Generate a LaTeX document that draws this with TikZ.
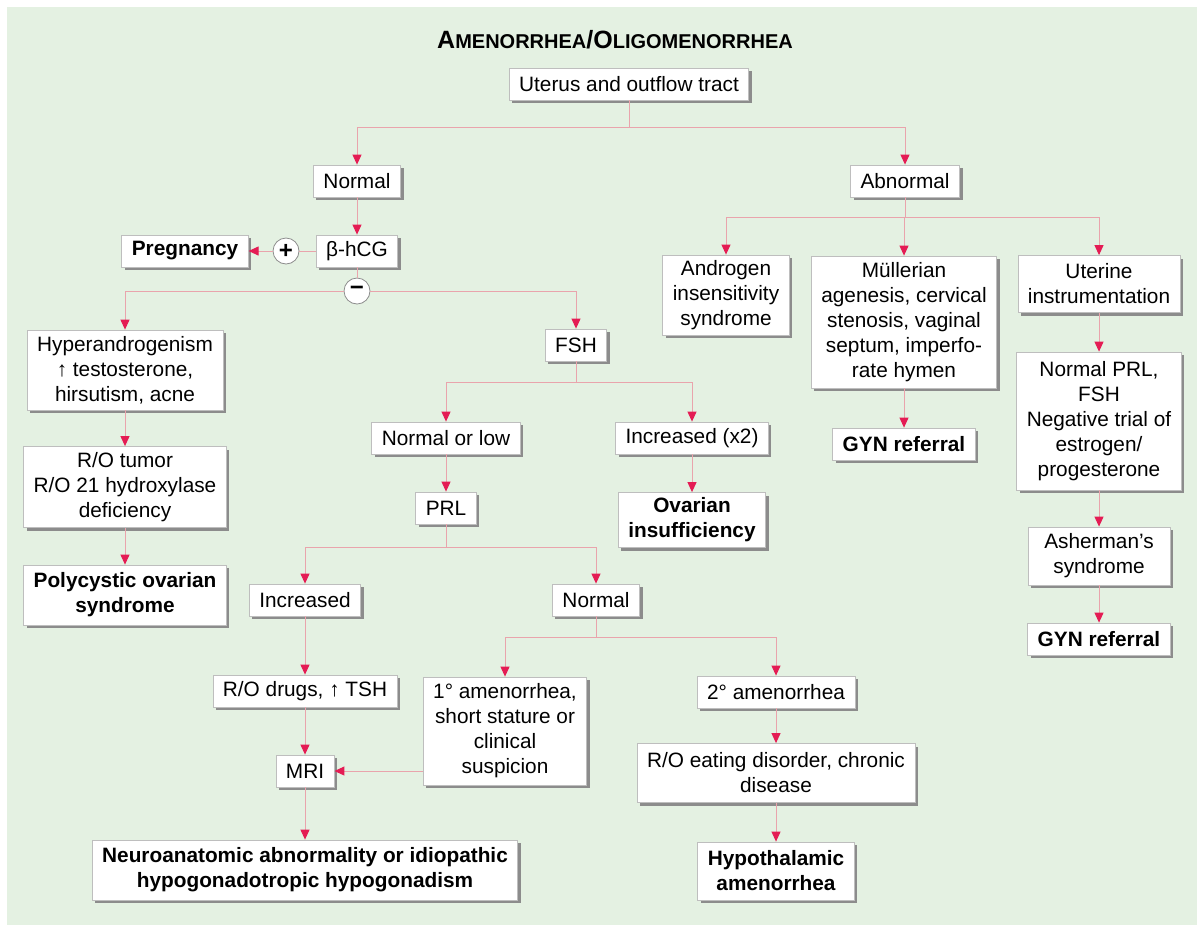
\documentclass[tikz,border=0pt]{standalone}
\usepackage{fontspec}
\setmainfont{Liberation Sans}
\usetikzlibrary{arrows.meta,shadows}

\definecolor{panelgreen}{RGB}{228,241,226}
\definecolor{linkpink}{RGB}{233,164,172}
\definecolor{tipred}{RGB}{228,28,84}
\definecolor{edgegray}{RGB}{190,190,190}
\definecolor{shadegray}{RGB}{140,140,140}

\begin{document}
\begin{tikzpicture}[x=0.5pt, y=-0.5pt,
    box/.style = {draw=edgegray, fill=white, line width=0.4pt,
      drop shadow={shadow xshift=1.5pt, shadow yshift=-1.5pt, fill=shadegray, opacity=1},
      inner xsep=5pt, inner ysep=2.5pt, minimum height=16pt, align=center,
      font=\fontsize{10.4}{12.5}\selectfont},
    result/.style = {box, font=\fontsize{10.4}{12.5}\selectfont\bfseries},
    sign/.style = {circle, draw=shadegray, fill=white, minimum size=13pt, inner sep=0pt,
      font=\fontsize{12}{12}\selectfont\bfseries},
    link/.style = {draw=linkpink, line width=0.5pt},
    flow/.style = {link, -{Triangle[length=5pt, width=4.5pt, color=tipred]}}]
     \useasboundingbox (0,0) rectangle (1197,927);
     \fill[panelgreen] (7,7) rectangle (1197,925);
     % the nodes
     \node (title) at (615,40) {\bfseries\fontsize{12.5}{15}\selectfont A{\fontsize{10}{15}\selectfont MENORRHEA}/O{\fontsize{10}{15}\selectfont LIGOMENORRHEA}};
     \node[box] (uterus) at (629,84) {Uterus and outflow tract};
     \node[box] (normal) at (357,181) {Normal};
     \node[box] (abnormal) [right of = normal, node distance = 274pt] {Abnormal};
     \node[box] (hcg) [below of = normal, node distance = 35pt] {β-hCG};
     \node[sign] (plus) [left of = hcg, node distance = 35.5pt] {+};
     \node[result] (pregnancy) [left of = hcg, node distance = 86pt] {Pregnancy};
     \node[sign] (minus) [below of = hcg, node distance = 20pt] {−};
     \node[box, minimum width=98pt, minimum height=40pt] (hyper) at (125,370) {Hyperandrogenism\\↑ testosterone,\\hirsutism, acne};
     \node[box, minimum width=98pt, minimum height=40.5pt] (tumor) [below of = hyper, node distance = 58.5pt] {R/O tumor\\R/O 21 hydroxylase\\deficiency};
     \node[result, minimum width=98pt, minimum height=30pt] (pcos) [below of = tumor, node distance = 54pt] {Polycystic ovarian\\syndrome};
     \node[box] (fsh) at (576,345) {FSH};
     \node[box] (normlow) at (446,438) {Normal or low};
     \node[box] (incx2) [right of = normlow, node distance = 123pt] {Increased (x2)};
     \node[box] (prl) [below of = normlow, node distance = 35pt] {PRL};
     \node[result, minimum height=27.5pt] (ovarian) [below of = incx2, node distance = 41pt] {Ovarian\\insufficiency};
     \node[box] (incr) at (305,600) {Increased};
     \node[box] (normal2) [right of = incr, node distance = 145.5pt] {Normal};
     \node[box] (drugs) [below of = incr, node distance = 45.5pt] {R/O drugs, ↑ TSH};
     \node[box] (mri) [below of = drugs, node distance = 40pt] {MRI};
     \node[result, minimum height=30pt] (neuro) [below of = mri, node distance = 49.5pt] {Neuroanatomic abnormality or idiopathic\\hypogonadotropic hypogonadism};
     \node[box, minimum height=54pt] (primary) at (505,731) {1° amenorrhea,\\short stature or\\clinical\\suspicion};
     \node[box] (secondary) at (776,692) {2° amenorrhea};
     \node[box, minimum height=29.5pt] (eating) [below of = secondary, node distance = 40.5pt] {R/O eating disorder, chronic\\disease};
     \node[result, minimum height=29pt] (hypoth) [below of = eating, node distance = 49pt] {Hypothalamic\\amenorrhea};
     \node[box, minimum height=40pt] (androgen) at (726,295) {Androgen\\insensitivity\\syndrome};
     \node[box, minimum height=66pt] (mullerian) at (904,322) {Müllerian\\agenesis, cervical\\stenosis, vaginal\\septum, imperfo-\\rate hymen};
     \node[box, minimum width=81pt, minimum height=28.5pt] (uterine) at (1099,284) {Uterine\\instrumentation};
     \node[result] (gyn) [below of = mullerian, node distance = 61pt] {GYN referral};
     \node[box, minimum width=81pt, minimum height=69pt] (normprl) [below of = uterine, node distance = 68.5pt] {Normal PRL,\\FSH\\Negative trial of\\estrogen/\\progesterone};
     \node[box, minimum width=71pt, minimum height=29pt] (asherman) [below of = normprl, node distance = 67.5pt] {Asherman’s\\syndrome};
     \node[result, minimum width=71pt] (gyn2) [below of = asherman, node distance = 41.5pt] {GYN referral};
     % the arrows
     \draw[flow] (uterus.south) -- ++(0,27) -| (normal.north);
     \draw[flow] (uterus.south) -- ++(0,27) -| (abnormal.north);
     \draw[flow] (normal) -- (hcg);
     \draw[link] (hcg) -- (plus);
     \draw[flow] (plus) -- (pregnancy);
     \draw[link] (hcg) -- (minus);
     \draw[flow] (minus) -| (hyper.north);
     \draw[flow] (minus) -| (fsh.north);
     \draw[flow] (hyper) -- (tumor);
     \draw[flow] (tumor) -- (pcos);
     \draw[flow] (fsh.south) -- ++(0,21) -| (normlow.north);
     \draw[flow] (fsh.south) -- ++(0,21) -| (incx2.north);
     \draw[flow] (normlow) -- (prl);
     \draw[flow] (incx2) -- (ovarian);
     \draw[flow] (prl.south) -- ++(0,23) -| (incr.north);
     \draw[flow] (prl.south) -- ++(0,23) -| (normal2.north);
     \draw[flow] (incr) -- (drugs);
     \draw[flow] (drugs) -- (mri);
     \draw[flow] (mri) -- (neuro);
     \draw[flow] (normal2.south) -- ++(0,21) -| (primary.north);
     \draw[flow] (normal2.south) -- ++(0,21) -| (secondary.north);
     \draw[flow] (primary.west |- mri) -- (mri);
     \draw[flow] (secondary) -- (eating);
     \draw[flow] (eating) -- (hypoth);
     \draw[flow] (abnormal.south) -- ++(0,20) -| (androgen.north);
     \draw[flow] (abnormal.south) -- ++(0,20) -| (mullerian.north);
     \draw[flow] (abnormal.south) -- ++(0,20) -| (uterine.north);
     \draw[flow] (mullerian) -- (gyn);
     \draw[flow] (uterine) -- (normprl);
     \draw[flow] (normprl) -- (asherman);
     \draw[flow] (asherman) -- (gyn2);
\end{tikzpicture}
\end{document}
